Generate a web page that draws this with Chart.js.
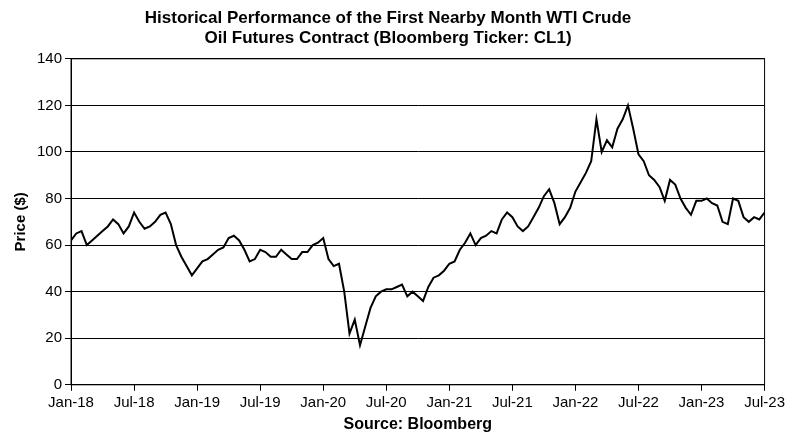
<!DOCTYPE html>
<html>
<head>
<meta charset="UTF-8">
<title>CL1</title>
<script src="https://cdn.jsdelivr.net/npm/chart.js"></script>
<style>
body{margin:0;background:#fff;}
</style>
</head>
<body>
<canvas id="myChart" width="788" height="442"></canvas>
<script>
// two points per month, Jan-18 .. Jul-23
var prices = [
 62,65,66,60,62,64,66,68,71,69,65,68,74,70,67,68,70,73,74,69,60,55,51,47,
 50,53,54,56,58,59,63,64,62,58,53,54,58,57,55,55,58,56,54,54,57,57,60,61,
 63,54,51,52,40,22,28,17,25,33,38,40,41,41,42,43,38,40,38,36,42,46,47,49,
 52,53,58,61,65,60,63,64,66,65,71,74,72,68,66,68,72,76,81,84,78,69,72,76,
 83,87,91,96,114,100,105,102,110,114,120,110,99,96,90,88,85,79,88,86,80,76,73,79,
 79,80,78,77,70,69,80,79,72,70,72,71,74
];
var tickLabels = ['Jan-18','Jul-18','Jan-19','Jul-19','Jan-20','Jul-20','Jan-21','Jul-21','Jan-22','Jul-22','Jan-23','Jul-23'];

var pts = prices.map(function(v,i){ return {x:i, y:v}; });
var font = 'Arial, "Liberation Sans", sans-serif';

new Chart(document.getElementById('myChart'), {
  type: 'line',
  data: { datasets: [{ data: pts, borderColor:'#000', borderWidth:2, pointRadius:0, tension:0 }] },
  options: {
    responsive:false, animation:false,
    devicePixelRatio:1,
    layout:{ padding:{left:8,right:20,top:4,bottom:4} },
    plugins:{
      legend:{display:false}, tooltip:{enabled:false},
      title:{ display:true, text:['Historical Performance of the First Nearby Month WTI Crude','Oil Futures Contract (Bloomberg Ticker: CL1)'],
        color:'#000', font:{family:font, size:17, weight:'bold'}, padding:{top:4,bottom:10} }
    },
    scales:{
      x:{ type:'linear', min:0, max:132,
        afterBuildTicks:function(ax){ ax.ticks = tickLabels.map(function(l,i){return {value:i*12};}); },
        ticks:{ color:'#000', font:{family:font,size:15}, maxRotation:0, autoSkip:false,
          callback:function(v){ return tickLabels[Math.round(v/12)]; } },
        grid:{ drawOnChartArea:false, color:'#000', tickLength:6 },
        border:{ color:'#000', width:1 },
        title:{ display:true, text:'Source: Bloomberg', color:'#000', font:{family:font,size:16,weight:'bold'}, padding:{top:0} }
      },
      y:{ min:0, max:140,
        ticks:{ stepSize:20, color:'#000', font:{family:font,size:15} },
        grid:{ color:'#000', tickLength:6 },
        border:{ color:'#000', width:1 },
        title:{ display:true, text:'Price ($)', color:'#000', font:{family:font,size:15,weight:'bold'} }
      }
    }
  },
  plugins:[{ id:'box', afterDraw:function(c){ var a=c.chartArea, x=c.ctx; x.save(); x.strokeStyle='#000'; x.lineWidth=1; x.strokeRect(a.left,a.top,a.right-a.left,a.bottom-a.top); x.restore(); } }]
});
</script>
</body>
</html>
